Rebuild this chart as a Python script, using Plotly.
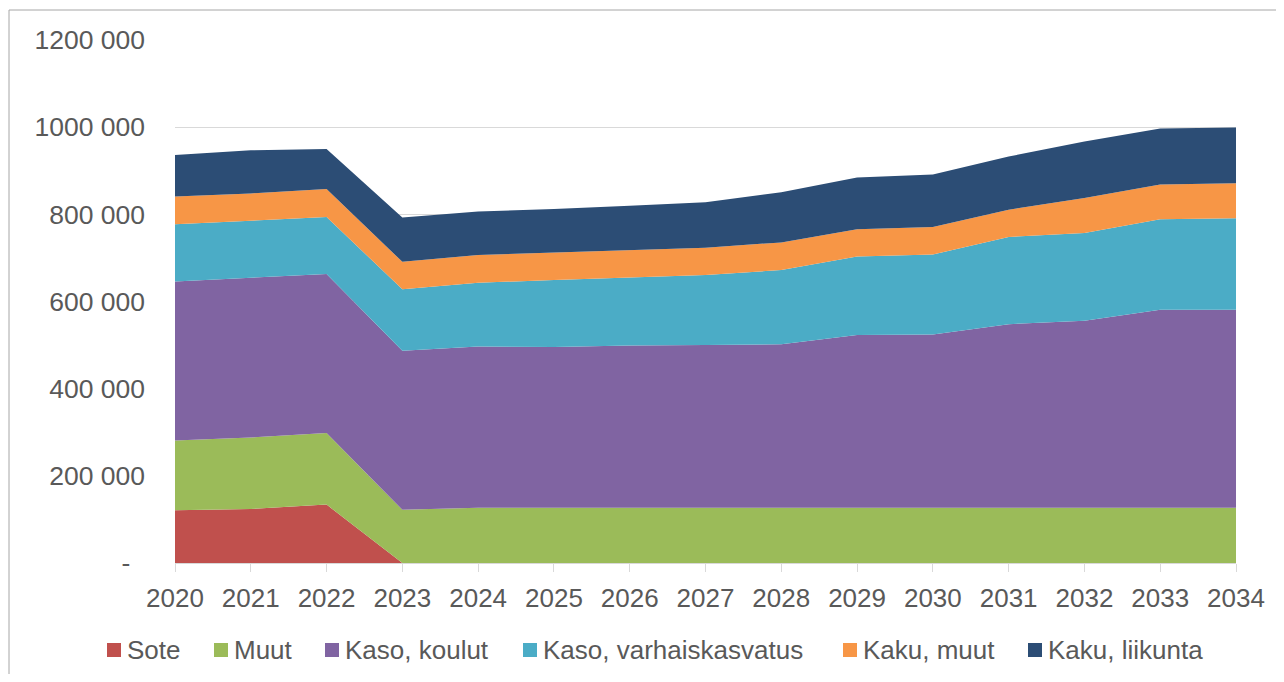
import plotly.graph_objects as go

years = list(range(2020, 2035))

sote = [121000, 124000, 134000, 0, 0, 0, 0, 0, 0, 0, 0, 0, 0, 0, 0]
muut = [160000, 164000, 164000, 122000, 127000, 127000, 127000, 127000, 127000, 127000, 127000, 127000, 127000, 127000, 127000]
kaso_koulut = [365000, 366000, 365000, 365000, 370000, 368500, 372000, 373000, 375000, 396000, 397000, 421000, 429000, 454000, 454000]
kaso_varhais = [131000, 131000, 131000, 141000, 146000, 154000, 156000, 161000, 170000, 180000, 184000, 200000, 201000, 208000, 210000]
kaku_muut = [64000, 63000, 64000, 63000, 63500, 62600, 63700, 62600, 63600, 62700, 63200, 62700, 80300, 79500, 80300]
kaku_liikunta = [95000, 99000, 92000, 102000, 100000, 100000, 101000, 104000, 115000, 119000, 120000, 122000, 130000, 128500, 128000]

series_names = ["Sote", "Muut", "Kaso, koulut", "Kaso, varhaiskasvatus", "Kaku, muut", "Kaku, liikunta"]
series_values = [sote, muut, kaso_koulut, kaso_varhais, kaku_muut, kaku_liikunta]
colors = ["#C0504D", "#9BBB59", "#8064A2", "#4BACC6", "#F79646", "#2C4D75"]

y_tickvals = [0, 200000, 400000, 600000, 800000, 1000000, 1200000]
y_ticktext = ["-\u00a0\u00a0", "200 000", "400 000", "600 000", "800 000", "1000 000", "1200 000"]

TXT = "#595959"
fig = go.Figure()
for name, vals, col in zip(series_names, series_values, colors):
    fig.add_trace(go.Scatter(
        x=years, y=vals, name=name, mode="lines",
        stackgroup="one", line=dict(width=0, color=col),
        fillcolor=col, showlegend=False,
    ))

# page is offset by the 8px body margin
W, H = 1268, 666
L, R, T, B = 167, 1228, 32, 555
PW, PH = R - L, B - T


def px(x):
    return (x - L) / PW


def py(y):
    return (B - y) / PH


shapes = [dict(type="rect", xref="paper", yref="paper",
               x0=px(1), x1=px(1300), y0=py(700), y1=py(2),
               line=dict(color="#A6A6A6", width=1), fillcolor="rgba(0,0,0,0)", layer="below")]
annotations = []

# custom legend (square swatches + labels)
marker_left = [99, 206, 317, 515, 835, 1020]
leg_cy = 642
for name, col, mx in zip(series_names, colors, marker_left):
    shapes.append(dict(type="rect", xref="paper", yref="paper",
                       x0=px(mx), x1=px(mx + 14), y0=py(leg_cy + 7), y1=py(leg_cy - 7),
                       line=dict(width=0), fillcolor=col))
    annotations.append(dict(xref="paper", yref="paper", x=px(mx + 18), y=py(leg_cy),
                            xanchor="left", yanchor="middle", text=name, showarrow=False,
                            font=dict(size=26, color=TXT)))

fig.update_layout(
    width=W, height=H,
    margin=dict(l=L, r=W - R, t=T, b=H - B, pad=0),
    paper_bgcolor="white", plot_bgcolor="white",
    font=dict(family="Liberation Sans, Arial, sans-serif", size=26, color=TXT),
    showlegend=False,
    xaxis=dict(range=[2020, 2034], tickmode="array", tickvals=years,
               ticktext=[str(y) for y in years],
               showgrid=False, zeroline=False, showline=True, linecolor="#D9D9D9", linewidth=1,
               ticks="outside", ticklen=8, tickcolor="#D9D9D9", tickwidth=1,
               ticklabelstandoff=4, tickfont=dict(size=26, color=TXT)),
    yaxis=dict(range=[0, 1200000], tickmode="array", tickvals=y_tickvals, ticktext=y_ticktext,
               showgrid=True, gridcolor="#D9D9D9", gridwidth=1, zeroline=False, showline=False,
               ticks="", ticklabelstandoff=29, tickfont=dict(size=26.5, color=TXT)),
    shapes=shapes,
    annotations=annotations,
)

fig.write_html("out.html")
